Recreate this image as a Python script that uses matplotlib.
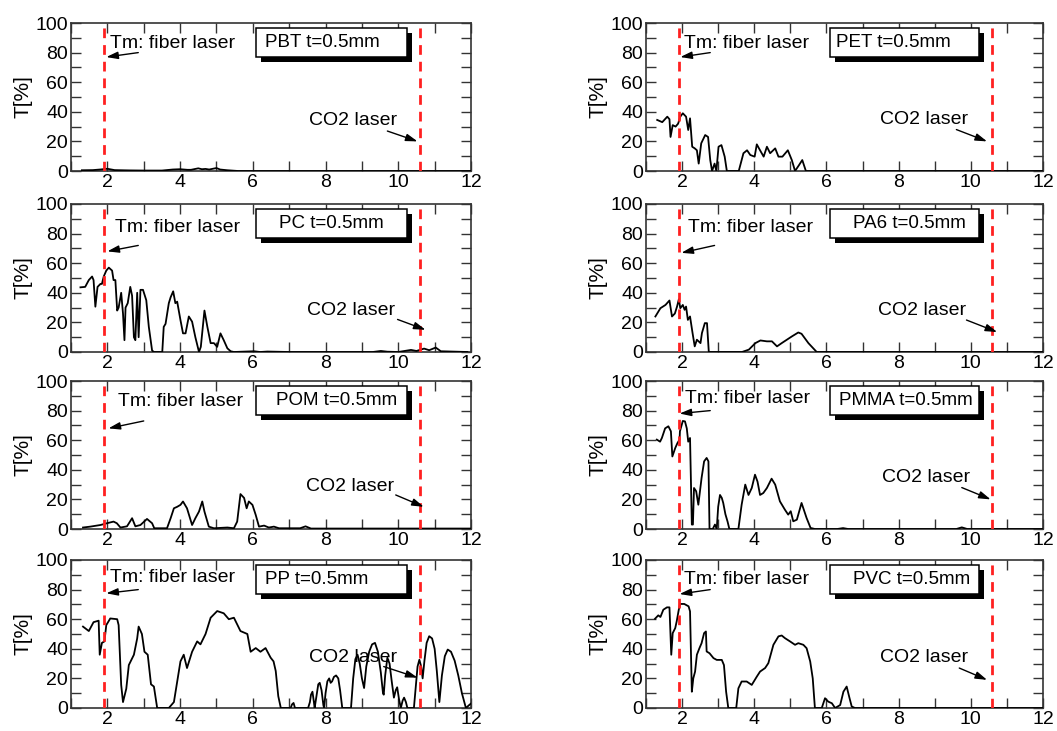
import matplotlib
matplotlib.use("Agg")
import matplotlib.pyplot as plt
from matplotlib.patches import Rectangle
from matplotlib.ticker import MultipleLocator

plt.rcParams['font.family'] = ['Liberation Sans', 'DejaVu Sans']

# ---------------- data (wavelength in um, transmittance in %) ----------------
pbt_x = [1.3, 1.6, 1.8, 2.0, 2.2, 2.6, 3.0, 3.5, 3.8, 4.0, 4.2, 4.3, 4.5, 4.6, 4.7, 4.8, 4.9, 5.0, 5.1, 5.3, 5.6, 6.5, 8.0, 10.0, 12.0]
pbt_y = [0.5, 0.6, 1.0, 1.5, 0.6, 0.4, 0.3, 0.3, 1.0, 1.2, 0.8, 0.8, 1.8, 1.2, 1.4, 1.0, 1.5, 2.0, 1.0, 0.5, 0.0, 0.0, 0.0, 0.0, 0.0]

pet_x = [1.31, 1.45, 1.59, 1.65, 1.68, 1.74, 1.82, 1.89, 1.95, 2.02, 2.11, 2.17, 2.22, 2.28, 2.35, 2.41, 2.46, 2.53, 2.64, 2.72, 2.78, 2.83, 2.9, 2.95, 3.01, 3.09, 3.18, 3.24, 3.57, 3.70, 3.80, 3.89, 4.01, 4.07, 4.16, 4.26, 4.35, 4.44, 4.58, 4.67, 4.78, 4.93, 5.04, 5.13, 5.24, 5.33, 5.43, 8.0, 12.0]
pet_y = [34.5, 33, 36.7, 35, 23, 31, 30, 32, 36.7, 39, 36.7, 27.7, 35.6, 16.4, 15.3, 14, 5, 18.7, 24.3, 23, 7.4, 0, 5, 0, 16.4, 17.5, 9.7, 0, 0, 12, 14, 10.8, 9.7, 18, 14, 9.7, 16.4, 12, 15.3, 9.7, 9.7, 14, 7.4, 0, 4, 7.4, 0, 0, 0]

pc_x = [1.26, 1.39, 1.49, 1.58, 1.62, 1.67, 1.73, 1.81, 1.85, 1.90, 1.97, 2.04, 2.13, 2.17, 2.22, 2.27, 2.31, 2.38, 2.43, 2.47, 2.50, 2.56, 2.63, 2.68, 2.73, 2.77, 2.82, 2.86, 2.91, 2.98, 3.07, 3.14, 3.23, 3.28, 3.51, 3.55, 3.60, 3.69, 3.74, 3.81, 3.87, 3.92, 4.01, 4.08, 4.15, 4.24, 4.33, 4.42, 4.52, 4.57, 4.67, 4.75, 4.84, 4.93, 5.02, 5.11, 5.20, 5.30, 5.39, 5.48, 6.03, 6.2, 6.4, 7.0, 9.3, 9.52, 9.7, 10.0, 10.35, 10.5, 10.71, 10.85, 11.03, 11.17, 11.9]
pc_y = [43.7, 44, 48.6, 51, 48.6, 30.6, 44, 46, 46, 51, 55, 57, 55, 48.6, 48.6, 28, 30, 40, 26, 8, 30, 33, 44, 38, 10, 8, 40, 10, 42, 42, 35, 17, 1, 0, 0, 17, 19, 33, 37, 41, 33, 34, 21.6, 12.6, 12.6, 24, 20.5, 10, 0, 3.5, 28, 17, 6, 6, 3.5, 12.6, 8, 2.5, 0.5, 0, 0.5, 0, 0.3, 0, 0, 0.7, 0.2, 0, 1.4, 0.7, 2.3, 1.2, 3.0, 0.5, 0]

pa6_x = [1.26, 1.40, 1.54, 1.65, 1.72, 1.80, 1.86, 1.91, 1.95, 2.02, 2.07, 2.11, 2.16, 2.22, 2.29, 2.35, 2.41, 2.51, 2.55, 2.63, 2.69, 2.74, 3.66, 3.85, 4.03, 4.17, 4.35, 4.49, 4.63, 4.76, 5.04, 5.22, 5.31, 5.50, 5.73, 8.0, 12.0]
pa6_y = [24, 29.6, 31.8, 34.8, 24, 26, 30.7, 35.6, 29.6, 31.8, 28.5, 30.7, 21.7, 24, 12.8, 3.8, 8.3, 6, 12.8, 19.5, 19.5, 0, 0, 1.6, 6, 7.8, 7.2, 7.2, 3.8, 6, 10.5, 13.2, 12.3, 6, 0, 0, 0]

pom_x = [1.33, 1.53, 1.81, 1.99, 2.17, 2.26, 2.36, 2.54, 2.68, 2.77, 2.91, 3.09, 3.23, 3.29, 3.64, 3.74, 3.83, 3.92, 4.01, 4.08, 4.19, 4.33, 4.42, 4.52, 4.61, 4.67, 4.79, 4.93, 5.30, 5.48, 5.57, 5.66, 5.76, 5.83, 5.89, 5.99, 6.08, 6.17, 6.31, 6.44, 6.58, 6.72, 7.3, 7.45, 7.6, 12.0]
pom_y = [1, 1.6, 2.7, 3.9, 5, 3.9, 1, 1.8, 7.3, 1.8, 2.7, 6.8, 3.9, 0.5, 0.5, 7.3, 14, 15, 16.3, 18.6, 14, 2.7, 7.3, 11.8, 18.6, 11.8, 1.6, 0.5, 1, 0.5, 5, 23.6, 21, 14, 18.6, 16.3, 9.5, 1.6, 2.3, 1, 1.6, 0.5, 0.5, 1.8, 0.3, 0.3]

pmma_x = [1.30, 1.39, 1.44, 1.53, 1.62, 1.69, 1.73, 1.81, 1.87, 1.93, 1.94, 2.02, 2.08, 2.13, 2.17, 2.22, 2.27, 2.30, 2.33, 2.39, 2.45, 2.54, 2.61, 2.68, 2.73, 2.76, 2.85, 2.91, 2.96, 3.00, 3.05, 3.10, 3.14, 3.20, 3.26, 3.31, 3.56, 3.65, 3.75, 3.84, 3.93, 4.02, 4.09, 4.16, 4.25, 4.35, 4.48, 4.58, 4.71, 4.85, 4.94, 5.01, 5.08, 5.18, 5.31, 5.45, 5.56, 5.68, 6.3, 6.46, 6.6, 9.6, 9.75, 9.9, 12.0]
pmma_y = [60.4, 59, 61.5, 68, 69.4, 66, 49, 54.7, 58, 60.4, 66, 73, 72.7, 68, 59, 61.5, 3, 3, 27.7, 25.5, 16.4, 34.5, 45.7, 48, 45.7, 0, 0, 3, 0, 15, 23, 21, 17.6, 10, 5, 0, 0, 16.4, 30, 23, 27.7, 36.7, 32, 23, 24.3, 27.7, 34, 30, 18.7, 13, 9.7, 12, 5.2, 6.3, 17.6, 7.4, 0.7, 0, 0, 0.6, 0, 0, 1.1, 0, 0]

pp_x = [1.33, 1.49, 1.62, 1.76, 1.79, 1.85, 1.92, 1.97, 2.08, 2.27, 2.31, 2.38, 2.43, 2.52, 2.59, 2.73, 2.82, 2.86, 2.95, 3.02, 3.11, 3.20, 3.28, 3.37, 3.69, 3.83, 4.01, 4.10, 4.19, 4.33, 4.47, 4.56, 4.70, 4.84, 5.02, 5.20, 5.34, 5.48, 5.66, 5.85, 5.94, 6.08, 6.21, 6.35, 6.49, 6.57, 6.63, 6.70, 6.77,
        7.04, 7.08, 7.12, 7.16, 7.52, 7.57, 7.60, 7.64, 7.68, 7.70, 7.75, 7.80, 7.84, 7.89, 7.94, 7.96, 8.00, 8.05, 8.10, 8.14, 8.18, 8.23, 8.29, 8.35, 8.40, 8.46,
        8.70, 8.76, 8.82, 8.88, 8.94, 9.00, 9.06, 9.12, 9.20, 9.28, 9.36, 9.44, 9.52, 9.58, 9.60, 9.64, 9.70, 9.76, 9.82, 9.88, 9.93, 9.97, 10.02, 10.07, 10.12, 10.16, 10.21, 10.25,
        10.43, 10.48, 10.53, 10.58, 10.63, 10.67, 10.72, 10.78, 10.85, 10.93, 11.00, 11.06, 11.13, 11.20, 11.28, 11.36, 11.45, 11.55, 11.65, 11.75, 11.86, 11.95, 12.0]
pp_y = [55, 52, 58, 59, 36, 44, 45, 56, 60.5, 60, 56, 15.6, 4, 13, 29, 36, 47, 55, 50, 38, 36, 16, 14.5, 0, 0, 4, 31.5, 36, 27, 38, 45, 43, 50, 61, 65.5, 64, 60, 61, 52, 50, 38, 40.5, 38, 40.5, 34, 31.5, 25, 8, 0,
        0, 2.5, 3.4, 0, 0, 4, 9, 11, 4, 0, 8, 16, 17, 12, 2, 0, 10, 18, 20, 17, 18, 21, 22, 20, 12, 0,
        0, 20, 33, 36, 30, 20, 13.5, 28, 38, 43, 44, 38, 24, 10, 9, 22, 34, 30, 18, 7, 12, 14, 6, 0, 5, 7, 4, 0,
        0, 14, 28, 32.6, 28, 20, 32, 44, 48.5, 47, 40, 25, 4, 22, 35, 39.5, 38, 32, 22, 10, 0, 2, 3]

pvc_x = [1.25, 1.34, 1.40, 1.48, 1.58, 1.65, 1.70, 1.74, 1.81, 1.85, 1.90, 1.94, 2.06, 2.18, 2.22, 2.27, 2.31, 2.36, 2.41, 2.48, 2.54, 2.61, 2.66, 2.68, 2.76, 2.87, 2.96, 3.10, 3.16, 3.22, 3.28, 3.50, 3.56, 3.65, 3.79, 3.93, 4.07, 4.16, 4.30, 4.39, 4.53, 4.67, 4.76, 4.85, 4.99, 5.13, 5.22, 5.36, 5.45, 5.55, 5.62, 5.68, 5.87, 5.96, 6.05, 6.15, 6.24, 6.38, 6.47, 6.56, 6.64, 6.70, 6.79, 8.0, 12.0]
pvc_y = [60.3, 62.6, 61.5, 66.4, 68, 68, 36, 50.6, 54, 58.5, 65.3, 70.3, 70.3, 68.7, 65.3, 11, 20, 24.6, 36, 40.4, 43.8, 50.6, 51.7, 38.2, 37, 33.7, 32.5, 32.5, 29, 11, 0, 0, 13.3, 17.9, 17.9, 15.6, 21.2, 24.6, 27, 30.3, 42.7, 48.4, 49, 47.2, 45, 42.7, 43.8, 42.7, 40.4, 31.4, 20, 0, 0, 6.6, 4.3, 3.2, 0, 2, 11, 14.5, 6.6, 1, 0, 0, 0]

labels = ["PBT t=0.5mm", "PET t=0.5mm", "PC t=0.5mm", "PA6 t=0.5mm",
          "POM t=0.5mm", "PMMA t=0.5mm", "PP t=0.5mm", "PVC t=0.5mm"]
series = [(pbt_x, pbt_y), (pet_x, pet_y), (pc_x, pc_y), (pa6_x, pa6_y),
          (pom_x, pom_y), (pmma_x, pmma_y), (pp_x, pp_y), (pvc_x, pvc_y)]

tm_wavelength = 1.92
co2_wavelength = 10.6

# ---------------- layout / annotation placement ----------------
W, H = 1057, 731
col_left = [71 / W, 646 / W]
col_width = [400 / W, 397 / W]
row_bottom = [1 - 171 / H, 1 - 352 / H, 1 - 529 / H, 1 - 708 / H]
row_height = 148 / H

# (tm text xy, tm arrow from, tm arrow to, co2 text xy, co2 arrow from, co2 arrow to, label center x)
ann = [
    ((2.08, 86), (2.85, 80), (1.97, 77), (7.54, 34), (9.7, 27), (10.53, 20), 7.9),
    ((2.05, 86), (2.78, 80), (1.95, 77), (7.47, 35), (9.6, 28), (10.45, 20), 7.85),
    ((2.22, 84), (2.85, 72), (2.0, 68), (7.48, 28), (9.98, 22), (10.75, 15), 8.17),
    ((2.15, 84), (2.9, 72), (1.98, 67), (7.42, 28), (9.88, 21.6), (10.73, 13.5), 8.3),
    ((2.3, 86), (3.0, 73), (2.03, 68), (7.45, 28.5), (9.93, 23), (10.7, 15), 8.3),
    ((2.09, 88), (2.78, 80), (1.93, 78), (7.53, 35), (9.75, 28), (10.55, 20), 8.2),
    ((2.08, 88), (2.85, 80), (1.97, 77.5), (7.54, 34), (9.6, 28), (10.53, 20.5), 7.75),
    ((2.05, 87), (2.78, 80), (1.93, 77), (7.47, 34), (9.68, 27), (10.45, 19), 8.35),
]

fig = plt.figure(figsize=(W / 100, H / 100), dpi=100)

for i, ((xs, ys), lab, a) in enumerate(zip(series, labels, ann)):
    r, c = divmod(i, 2)
    ax = fig.add_axes([col_left[c], row_bottom[r], col_width[c], row_height])
    ax.set_xlim(1, 12)
    ax.set_ylim(0, 100)
    ax.plot(xs, ys, color='black', lw=1.3, zorder=3)
    ax.axvline(tm_wavelength, color='#ff2020', ls=(0, (3.5, 2.5)), lw=2.0, zorder=4)
    ax.axvline(co2_wavelength, color='#ff2020', ls=(0, (3.5, 2.5)), lw=2.0, zorder=4)

    ax.xaxis.set_major_locator(MultipleLocator(2))
    ax.xaxis.set_minor_locator(MultipleLocator(1))
    ax.yaxis.set_major_locator(MultipleLocator(20))
    ax.yaxis.set_minor_locator(MultipleLocator(10))
    ax.tick_params(which='both', direction='in', top=True, right=True, width=1.0, colors='#333333')
    ax.tick_params(which='major', length=7, labelsize=14, labelcolor='black', pad=2)
    ax.tick_params(which='minor', length=7)
    for s in ax.spines.values():
        s.set_linewidth(1.2)
        s.set_color('#333333')
    ax.set_ylabel("T[%]", fontsize=15, labelpad=2)

    tm_xy, tm_from, tm_to, co_xy, co_from, co_to, lab_x = a
    ax.text(tm_xy[0], tm_xy[1], "Tm: fiber laser", fontsize=14, va='center', ha='left', zorder=5)
    ax.annotate("", xy=tm_to, xytext=tm_from,
                arrowprops=dict(arrowstyle='-|>,head_length=0.7,head_width=0.22',
                                color='black', lw=1.0, shrinkA=0, shrinkB=0, mutation_scale=10), zorder=5)
    ax.text(co_xy[0], co_xy[1], "CO2 laser", fontsize=14, va='center', ha='left', zorder=5)
    ax.annotate("", xy=co_to, xytext=co_from,
                arrowprops=dict(arrowstyle='-|>,head_length=0.7,head_width=0.22',
                                color='black', lw=1.0, shrinkA=0, shrinkB=0, mutation_scale=10), zorder=5)

    # label box with drop shadow
    bx0, bx1, by0, by1 = 6.1, 10.24, 77, 96.5
    ax.add_patch(Rectangle((bx0 + 0.13, by0 - 3.2), bx1 - bx0, by1 - by0,
                           facecolor='black', edgecolor='black', lw=0, zorder=5))
    ax.add_patch(Rectangle((bx0, by0), bx1 - bx0, by1 - by0,
                           facecolor='white', edgecolor='black', lw=1.1, zorder=6))
    ax.text(lab_x, (by0 + by1) / 2, lab, fontsize=13.5, ha='center', va='center', zorder=7)

fig.savefig("out.png", dpi=100)
